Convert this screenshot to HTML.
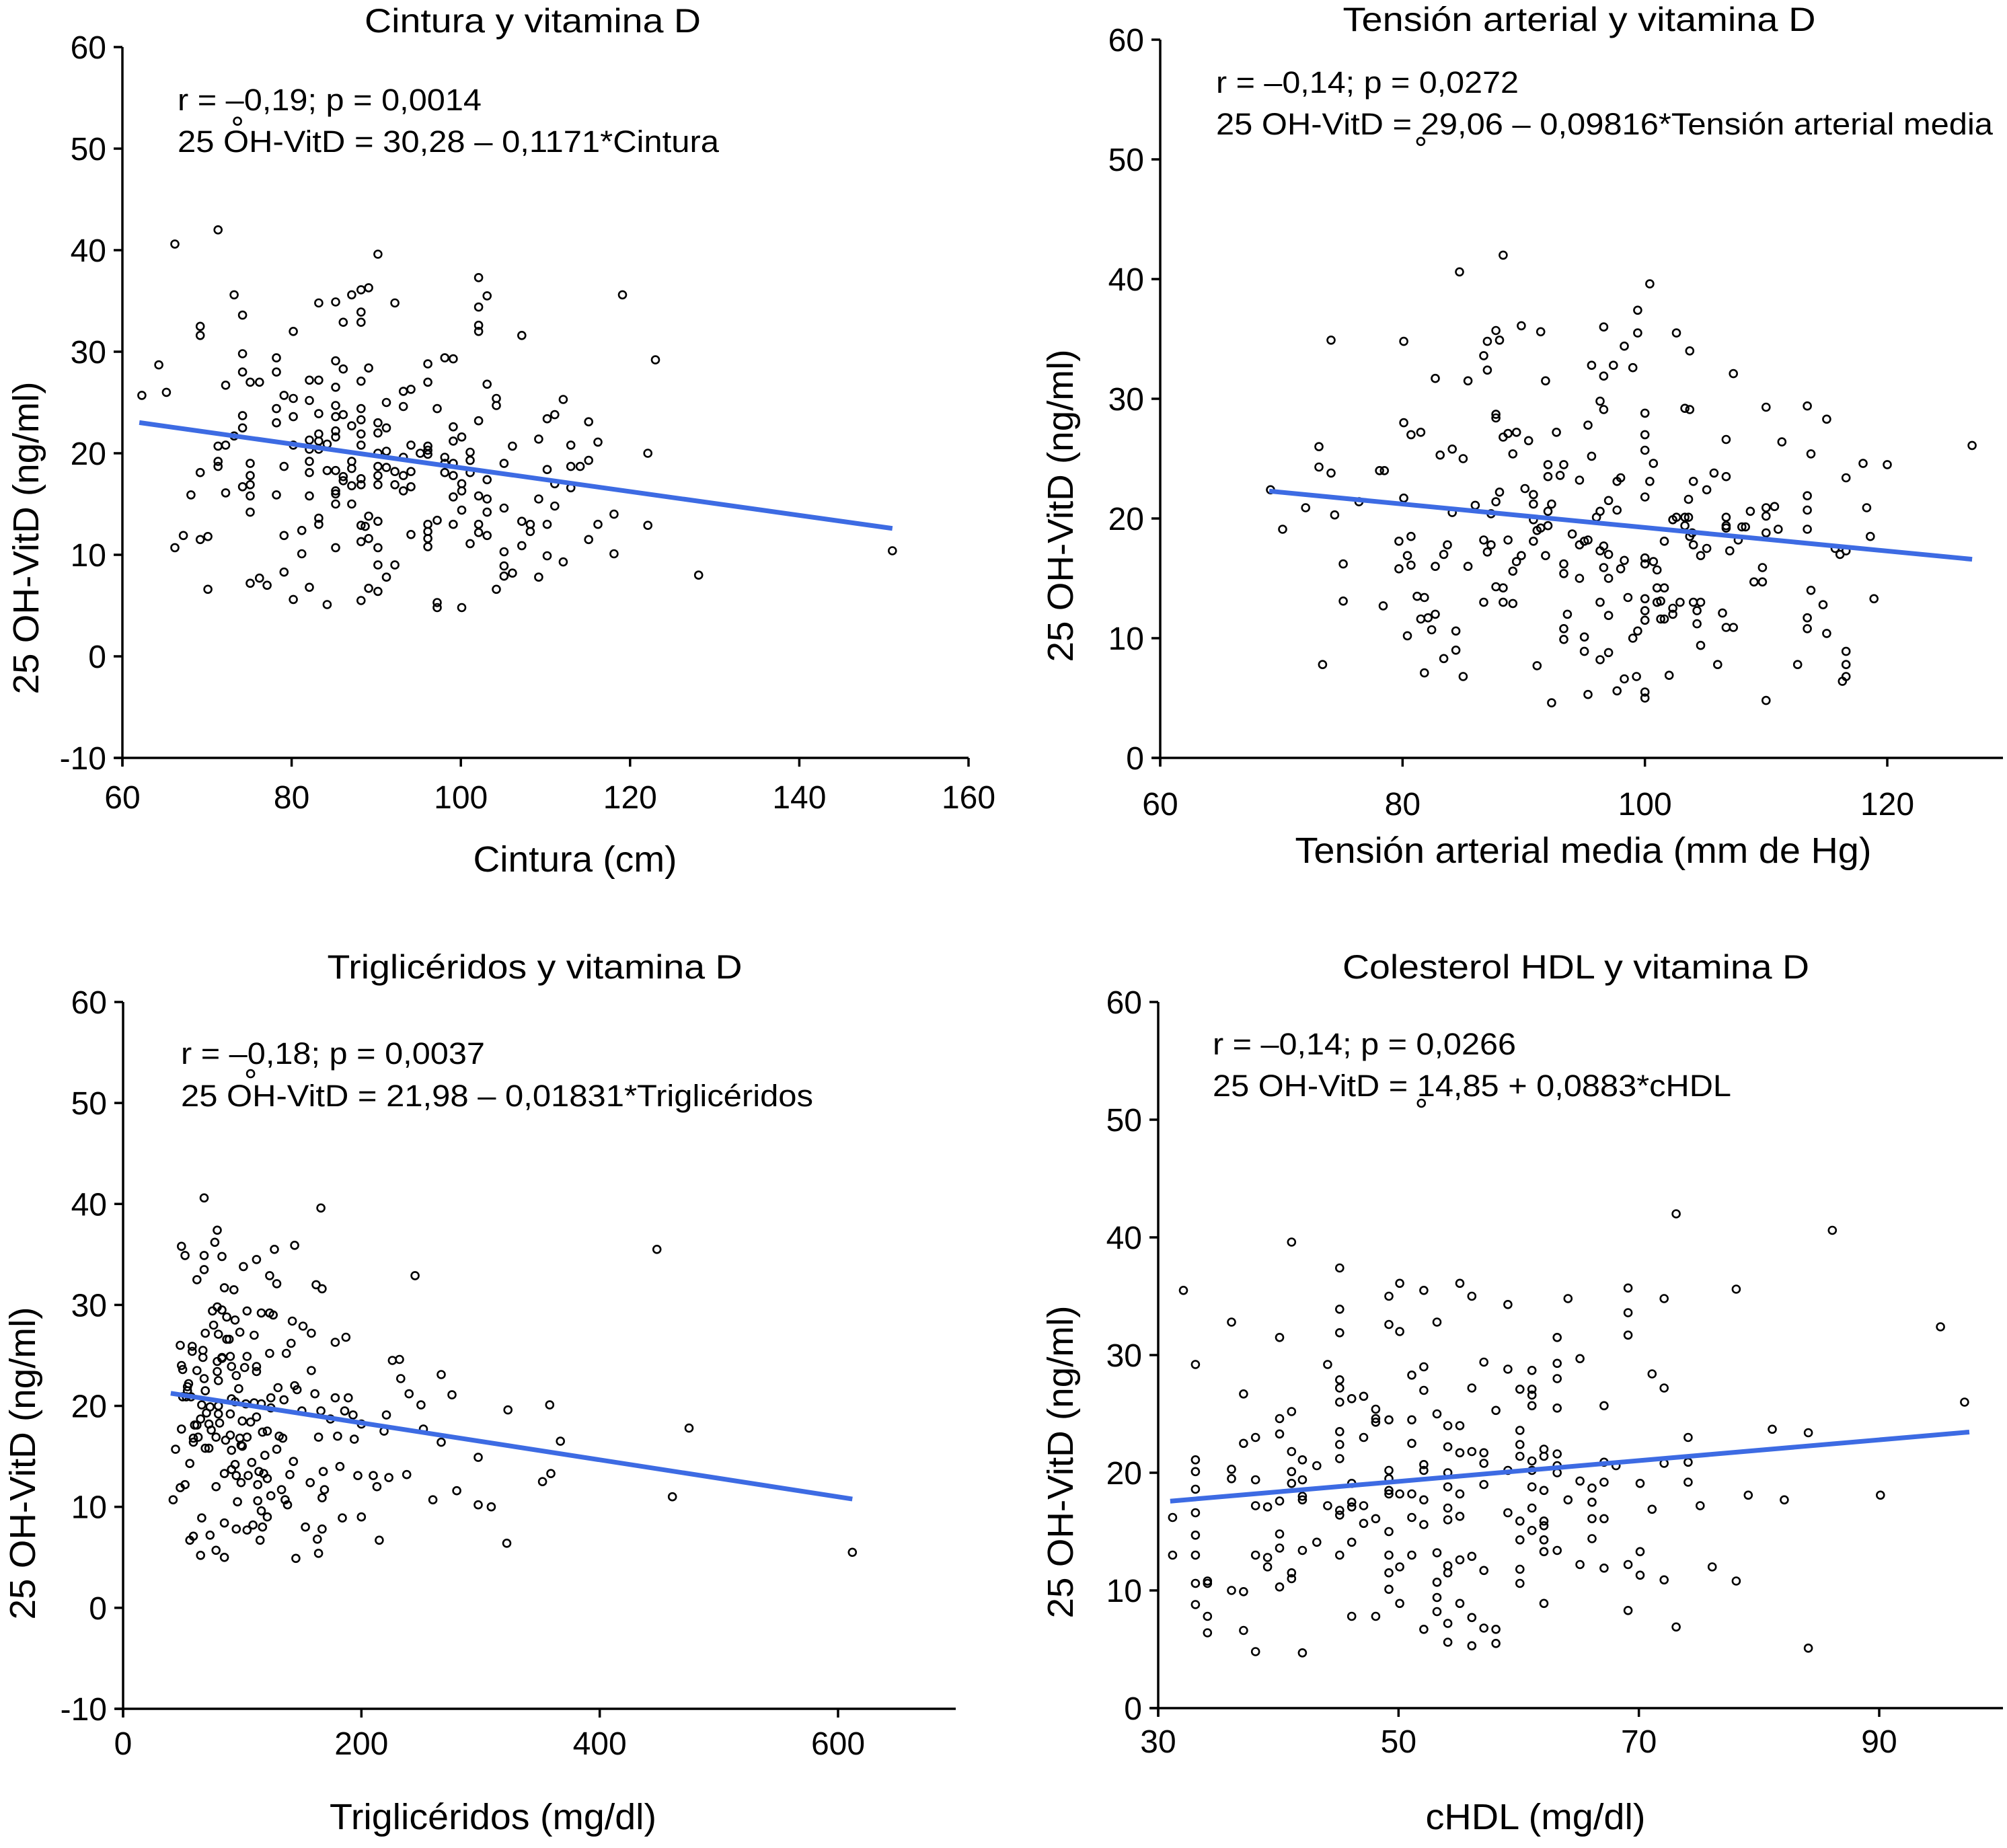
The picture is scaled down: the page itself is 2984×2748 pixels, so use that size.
<!DOCTYPE html>
<html><head><meta charset="utf-8"><style>
html,body{margin:0;padding:0;background:#fff;}
svg{display:block;font-family:"Liberation Sans",Arial,sans-serif;}
</style></head><body>
<svg id="fig" width="2984" height="2748" viewBox="0 0 2984 2748" xmlns="http://www.w3.org/2000/svg">
<rect width="2984" height="2748" fill="#fff"/>
</svg>
<script>
// ---- data ----
const cinturaPoints=[[62.3,25.7],[64.3,28.7],[65.2,26.0],[66.2,40.6],[71.3,42.0],[73.6,52.7],[66.2,10.7],[67.2,11.9],[69.2,32.5],[69.2,31.6],[69.2,18.1],[68.1,15.9],[69.2,11.5],[70.1,11.8],[70.1,6.6],[71.3,20.7],[71.3,19.2],[71.3,18.7],[72.2,20.8],[72.2,26.7],[72.2,16.1],[73.2,35.6],[73.2,21.7],[74.2,33.6],[74.2,29.8],[74.2,28.0],[74.2,23.7],[74.2,22.5],[74.2,16.7],[75.1,27.0],[76.2,27.0],[75.1,19.0],[75.1,17.8],[75.1,16.9],[75.1,15.8],[75.1,14.2],[75.1,7.2],[76.2,7.7],[77.1,7.0],[78.2,29.4],[78.2,28.0],[78.2,24.4],[78.2,23.0],[78.2,15.9],[79.1,25.7],[79.1,18.7],[79.1,11.9],[79.1,8.3],[80.2,32.0],[80.2,25.4],[80.2,23.6],[80.2,20.8],[80.2,5.6],[81.2,12.4],[81.2,10.1],[82.1,27.2],[82.1,25.2],[82.1,21.3],[82.1,20.4],[82.1,19.2],[82.1,18.1],[82.1,15.8],[82.1,6.8],[83.2,34.8],[83.2,27.2],[83.2,23.9],[83.2,21.9],[83.2,21.2],[83.2,20.4],[83.2,13.6],[83.2,13.0],[84.2,20.9],[84.2,18.3],[84.2,5.1],[85.2,34.9],[85.2,29.1],[85.2,26.5],[85.2,24.7],[85.2,23.6],[85.2,22.2],[85.2,21.6],[85.2,18.3],[85.2,16.3],[85.2,16.0],[85.2,15.0],[85.2,10.7],[86.1,32.9],[86.1,28.3],[86.1,23.8],[86.1,17.7],[86.1,17.3],[87.1,35.6],[87.1,22.7],[87.1,19.2],[87.1,18.5],[87.1,16.8],[87.1,15.0],[88.2,36.1],[88.2,33.9],[88.2,32.9],[88.2,27.1],[88.2,24.4],[88.2,23.3],[88.2,21.9],[88.2,20.8],[88.2,17.5],[88.2,16.9],[88.2,12.9],[88.2,11.3],[88.2,5.5],[89.1,36.3],[89.1,28.4],[89.1,13.8],[89.1,11.6],[89.1,6.7],[88.7,12.8],[90.2,39.6],[90.2,23.0],[90.2,22.0],[90.2,20.0],[90.2,18.7],[90.2,17.8],[90.2,16.9],[90.2,13.3],[90.2,10.7],[90.2,9.0],[90.2,6.4],[91.2,25.0],[91.2,22.5],[91.2,20.2],[91.2,18.6],[91.2,7.8],[92.2,34.8],[92.2,18.2],[92.2,16.9],[92.2,9.0],[93.2,26.1],[93.2,24.6],[93.2,19.6],[93.2,17.8],[93.2,16.3],[94.1,26.3],[94.1,20.8],[94.1,18.2],[94.1,16.7],[94.1,12.0],[95.2,20.0],[96.1,28.8],[96.1,27.0],[96.1,20.7],[96.1,20.3],[96.1,19.9],[96.1,13.0],[96.1,12.3],[96.1,11.6],[96.1,10.8],[97.2,24.4],[97.2,13.4],[97.2,5.3],[97.2,4.8],[98.1,29.4],[98.1,19.6],[98.1,19.0],[98.1,18.1],[99.1,29.3],[99.1,22.6],[99.1,21.2],[99.1,19.0],[99.1,17.8],[99.1,15.7],[99.1,13.0],[100.1,21.6],[100.1,17.0],[100.1,16.3],[100.1,14.4],[100.1,4.8],[101.1,20.1],[101.1,19.3],[101.1,18.1],[101.1,11.1],[102.1,37.3],[102.1,34.4],[102.1,32.6],[102.1,32.0],[102.1,23.2],[102.1,15.8],[102.1,13.0],[102.1,12.2],[103.1,35.5],[103.1,26.8],[103.1,17.4],[103.1,15.5],[103.1,14.2],[103.1,11.9],[104.2,25.4],[104.2,24.7],[104.2,6.6],[105.1,19.0],[105.1,14.6],[105.1,10.3],[105.1,8.9],[105.1,7.9],[106.1,20.7],[106.1,8.2],[107.2,31.6],[107.2,13.3],[107.2,10.9],[108.2,13.0],[108.2,12.3],[109.2,21.4],[109.2,15.5],[109.2,7.8],[110.2,23.4],[110.2,18.4],[110.2,13.0],[110.2,9.9],[111.1,23.8],[111.1,17.0],[111.1,14.8],[112.1,25.3],[112.1,9.3],[113.0,20.8],[113.0,18.7],[113.0,16.6],[114.1,18.7],[115.1,23.1],[115.1,19.3],[115.1,11.5],[116.2,21.1],[116.2,13.0],[118.1,14.0],[118.1,10.1],[119.1,35.6],[122.1,20.0],[122.1,12.9],[123.0,29.2],[128.1,8.0],[151.0,10.4]];
const tensionPoints=[[69.1,22.4],[70.1,19.1],[72.0,20.9],[73.1,26.0],[73.1,24.3],[74.1,23.8],[74.1,34.9],[73.4,7.8],[74.4,20.3],[75.1,16.2],[75.1,13.1],[76.4,21.4],[78.1,24.0],[78.5,24.0],[78.4,12.7],[80.1,34.8],[80.1,28.0],[80.1,21.7],[79.7,18.1],[79.7,15.8],[80.4,16.9],[80.4,10.2],[80.7,18.5],[80.7,16.1],[80.7,27.0],[81.5,27.2],[81.2,13.5],[81.8,13.4],[81.5,11.6],[82.1,11.7],[82.7,12.0],[82.4,10.7],[81.8,7.1],[82.7,31.7],[82.7,16.0],[83.1,25.3],[83.4,17.0],[83.7,17.8],[83.4,8.3],[84.1,25.8],[84.1,20.5],[84.4,10.6],[84.4,9.0],[84.7,40.6],[85.0,25.0],[85.4,31.5],[85.4,16.0],[85.0,6.8],[86.0,21.1],[86.7,33.6],[87.0,34.8],[87.0,32.4],[86.7,18.2],[87.0,17.2],[86.7,13.0],[87.3,20.4],[87.3,17.8],[87.7,35.7],[88.0,34.9],[87.7,28.7],[87.7,28.4],[87.7,21.4],[88.0,22.2],[87.7,14.3],[88.3,14.2],[88.3,13.0],[88.3,42.0],[88.3,26.8],[88.7,27.1],[88.7,18.2],[89.1,25.4],[89.1,15.6],[89.1,12.9],[89.4,27.2],[89.4,16.4],[89.8,36.1],[89.8,16.9],[90.1,22.5],[90.4,26.5],[90.8,22.0],[90.8,21.2],[90.8,19.9],[90.8,18.1],[91.1,19.0],[91.1,7.7],[91.4,35.6],[91.4,19.2],[91.8,31.5],[91.8,16.9],[92.0,24.5],[92.0,23.5],[92.0,19.4],[92.0,20.6],[92.3,21.2],[92.7,27.2],[92.3,4.6],[93.0,23.6],[93.3,24.5],[93.3,16.2],[93.3,15.4],[93.3,10.8],[93.3,9.9],[93.6,12.0],[94.0,18.7],[94.6,23.2],[94.6,17.8],[94.6,15.0],[95.0,18.1],[95.3,18.2],[95.0,10.1],[95.0,8.9],[95.3,27.8],[95.3,5.3],[95.6,32.8],[95.6,25.2],[96.0,20.1],[96.3,29.8],[96.3,20.6],[96.3,17.3],[96.3,13.0],[96.3,8.2],[96.6,29.1],[96.6,31.9],[96.6,36.0],[96.6,17.7],[96.6,15.9],[97.0,21.5],[97.0,17.0],[97.0,15.0],[97.0,11.9],[97.0,8.8],[97.4,32.8],[97.7,23.1],[97.7,20.7],[98.0,23.4],[98.0,15.8],[97.7,5.6],[98.3,34.4],[98.3,16.5],[98.3,6.6],[98.6,13.4],[99.0,32.6],[99.0,10.0],[99.3,6.8],[99.4,37.4],[99.4,35.5],[99.4,10.6],[100.0,28.8],[100.0,27.0],[100.0,25.7],[100.0,21.8],[100.0,16.7],[100.0,16.2],[100.0,13.3],[100.0,12.3],[100.0,11.5],[100.0,5.5],[100.0,5.0],[100.4,39.6],[100.4,23.1],[100.7,24.6],[100.7,16.4],[101.0,15.7],[101.0,13.0],[101.0,14.2],[101.3,13.1],[101.3,11.6],[101.6,18.1],[101.6,14.2],[101.6,11.6],[102.0,6.9],[102.3,19.9],[102.3,12.5],[102.3,12.0],[102.6,20.1],[102.6,35.5],[102.9,13.0],[103.3,20.1],[103.3,19.4],[103.3,29.2],[103.6,20.1],[103.6,21.6],[103.7,34.0],[103.7,29.1],[103.7,18.5],[103.9,18.8],[104.0,23.1],[104.0,17.8],[104.0,13.0],[104.3,12.3],[104.3,11.2],[104.6,13.0],[104.6,16.9],[104.6,9.4],[105.1,22.4],[105.1,17.5],[105.7,23.8],[106.0,7.8],[106.4,12.1],[106.7,26.6],[106.7,23.5],[106.7,20.1],[106.7,19.4],[106.7,19.2],[106.7,10.9],[107.0,17.3],[107.3,32.1],[107.3,10.9],[107.7,18.2],[108.0,19.3],[108.3,19.3],[108.7,20.6],[109.0,14.7],[109.7,14.7],[109.7,15.9],[110.0,29.3],[110.0,20.9],[110.0,20.2],[110.0,18.8],[110.0,4.8],[110.7,21.0],[111.0,19.1],[111.3,26.4],[112.6,7.8],[113.4,29.4],[113.4,21.9],[113.4,20.7],[113.4,19.1],[113.4,11.7],[113.4,10.8],[113.7,25.4],[113.7,14.0],[114.7,12.8],[115.0,28.3],[115.0,10.4],[115.7,17.5],[116.1,17.0],[116.3,6.4],[116.6,23.4],[116.6,17.3],[116.6,8.9],[116.6,7.8],[116.6,6.8],[118.0,24.6],[118.3,20.9],[118.6,18.5],[118.9,13.3],[120.0,24.5],[127.0,26.1],[81.5,51.5]];
const triglicPoints=[[42,10.7],[44,15.7],[48,11.9],[52,12.2],[48,26.0],[49,24.0],[50,23.6],[49,35.8],[52,34.9],[49,17.7],[50,20.9],[53,20.9],[54,21.9],[54,21.5],[55,22.2],[56,14.3],[57,20.9],[58,25.9],[58,25.4],[59,16.4],[59,16.8],[60,18.1],[56,6.7],[59,7.1],[62,18.1],[62,23.5],[62,32.5],[63,16.9],[65,18.7],[66,8.9],[65,5.2],[66,20.1],[67,24.8],[67,25.5],[68,33.5],[68,34.9],[68,40.6],[69,27.2],[68,22.7],[69,21.5],[69,15.8],[70,19.3],[72,18.2],[72,15.8],[73,7.2],[73,19.9],[74,17.6],[75,29.4],[76,28.0],[77,36.2],[78,16.9],[78,12.0],[78,5.7],[79,37.4],[79,29.8],[79,24.4],[79,23.4],[80,27.1],[80,22.5],[80,20.0],[80,19.2],[81,18.3],[83,34.8],[83,24.7],[83,24.8],[83,29.5],[85,31.7],[85,5.0],[85,8.4],[85,13.3],[86,16.6],[87,26.6],[87,28.8],[89,26.6],[90,24.9],[90,19.2],[90,17.1],[91,15.6],[91,13.7],[91,20.7],[91,23.9],[93,31.5],[94,28.5],[94,14.2],[94,20.4],[95,13.1],[95,23.0],[95,7.8],[96,10.5],[97,21.7],[98,27.3],[98,16.8],[99,12.4],[99,16.1],[100,18.5],[100,16.0],[101,33.8],[102,23.8],[103,20.2],[104,24.9],[104,29.4],[104,16.9],[104,7.7],[105,13.1],[107,18.4],[108,14.4],[109,8.2],[110,27.0],[110,20.3],[112,34.5],[112,23.9],[112,23.4],[112,18.9],[113,12.2],[113,10.6],[114,13.5],[115,6.7],[116,29.2],[116,20.2],[116,9.6],[117,17.4],[117,8.0],[118,13.3],[119,15.1],[121,9.0],[121,12.8],[121,17.5],[123,32.9],[123,29.2],[123,25.2],[124,19.8],[124,11.1],[124,20.8],[126,29.0],[127,35.5],[129,32.1],[129,15.7],[130,21.8],[131,17.0],[133,11.7],[134,16.8],[135,20.6],[136,10.7],[137,25.2],[138,10.2],[140,13.2],[141,26.2],[142,28.4],[143,14.5],[144,35.9],[144,22.0],[145,4.9],[146,21.6],[150,19.5],[151,27.9],[153,8.0],[157,12.4],[158,23.5],[158,27.2],[161,21.2],[162,32.0],[163,6.8],[164,16.9],[164,5.4],[166,39.6],[166,19.5],[167,31.6],[167,10.9],[167,7.8],[168,13.5],[169,11.7],[174,18.7],[178,26.3],[178,20.8],[180,17.0],[182,14.0],[184,8.9],[186,19.5],[187,26.8],[189,20.8],[193,19.1],[194,16.7],[197,13.1],[200,9.0],[200,18.2],[210,13.1],[213,12.0],[215,6.7],[219,17.5],[221,19.1],[223,12.9],[226,24.5],[232,24.6],[233,22.7],[238,13.2],[240,21.2],[245,32.9],[250,20.1],[252,17.7],[260,10.7],[267,23.1],[267,16.4],[276,21.1],[280,11.6],[298,14.9],[298,10.2],[309,10.0],[322,6.4],[323,19.6],[352,12.5],[358,20.1],[359,13.3],[367,16.5],[448,35.5],[461,11.0],[475,17.8],[612,5.5],[107,52.9]];
const hdlPoints=[[31.2,16.2],[31.2,13.0],[32.1,35.5],[33.1,29.2],[33.1,21.1],[33.1,20.1],[33.1,18.6],[33.1,16.6],[33.1,14.7],[33.1,13.0],[33.1,10.6],[33.1,8.8],[34.1,10.6],[34.1,10.8],[34.1,7.8],[34.1,6.4],[36.1,32.8],[36.1,20.3],[36.1,19.5],[36.1,10.0],[37.1,26.7],[37.1,22.5],[37.1,9.9],[37.1,6.6],[38.1,23.0],[38.1,19.4],[38.1,17.2],[38.1,13.0],[38.1,4.8],[39.1,12.8],[39.1,12.0],[39.1,17.1],[40.1,31.5],[40.1,24.6],[40.1,23.3],[40.1,17.6],[40.1,14.8],[40.1,13.6],[40.1,10.3],[41.1,39.6],[41.1,25.2],[41.1,21.8],[41.1,20.1],[41.1,19.1],[41.1,11.5],[41.1,11.0],[42.0,21.1],[42.0,19.4],[42.0,18.0],[42.0,17.7],[42.0,13.4],[42.0,4.7],[43.2,20.6],[43.2,14.1],[44.1,29.2],[44.1,17.2],[45.1,37.4],[45.1,33.9],[45.1,31.9],[45.1,27.9],[45.1,27.2],[45.1,26.0],[45.1,23.5],[45.1,22.4],[45.1,21.2],[45.1,16.8],[45.1,16.4],[45.1,13.0],[46.1,26.3],[46.1,19.1],[46.1,17.5],[46.1,17.1],[46.1,14.1],[46.1,7.8],[47.1,26.5],[47.1,23.0],[47.1,17.2],[47.1,15.7],[48.1,25.4],[48.1,24.6],[48.1,24.3],[48.1,16.1],[48.1,7.8],[49.2,35.0],[49.2,32.6],[49.2,24.5],[49.2,20.2],[49.2,19.5],[49.2,18.5],[49.2,18.2],[49.2,15.0],[49.2,13.0],[49.2,11.5],[49.2,10.1],[50.1,36.1],[50.1,32.0],[50.1,18.2],[50.1,12.0],[50.1,8.9],[51.1,28.3],[51.1,24.5],[51.1,22.5],[51.1,18.2],[51.1,16.2],[51.1,13.0],[51.9,51.4],[52.1,35.5],[52.1,29.0],[52.1,27.0],[52.1,20.7],[52.1,20.2],[52.1,17.7],[52.1,15.6],[52.1,6.7],[53.2,32.8],[53.2,25.0],[53.2,13.2],[53.2,10.7],[53.2,9.4],[53.2,8.2],[54.1,24.0],[54.1,22.2],[54.1,20.0],[54.1,18.8],[54.1,17.0],[54.1,16.0],[54.1,12.1],[54.1,11.5],[54.1,7.2],[54.1,5.6],[55.1,36.1],[55.1,24.0],[55.1,21.7],[55.1,18.2],[55.1,16.3],[55.1,12.6],[55.1,8.9],[56.1,35.0],[56.1,27.2],[56.1,21.8],[56.1,12.9],[56.1,7.7],[56.1,5.3],[57.1,29.4],[57.1,21.7],[57.1,20.8],[57.1,19.0],[57.1,11.7],[57.1,6.8],[58.1,25.3],[58.1,6.7],[58.1,5.5],[59.1,34.3],[59.1,28.8],[59.1,20.2],[59.1,16.6],[60.1,27.1],[60.1,23.6],[60.1,22.4],[60.1,21.4],[60.1,15.9],[60.1,14.3],[60.1,11.8],[60.1,10.6],[61.1,28.7],[61.1,27.1],[61.1,26.6],[61.1,25.7],[61.1,21.0],[61.1,20.2],[61.1,18.8],[61.1,17.0],[61.1,15.1],[62.1,22.0],[62.1,21.4],[62.1,18.5],[62.1,15.9],[62.1,15.5],[62.1,14.3],[62.1,13.3],[62.1,8.9],[63.2,31.5],[63.2,29.3],[63.2,28.0],[63.2,25.5],[63.2,21.6],[63.2,20.6],[63.2,20.0],[63.2,13.4],[64.1,34.8],[64.1,17.7],[65.1,29.7],[65.1,19.3],[65.1,12.2],[66.1,18.7],[66.1,17.5],[66.1,16.1],[66.1,14.4],[67.1,25.7],[67.1,20.9],[67.1,19.2],[67.1,16.1],[67.1,11.9],[68.1,20.6],[69.1,35.7],[69.1,33.6],[69.1,31.7],[69.1,12.2],[69.1,8.3],[70.1,19.1],[70.1,13.3],[70.1,11.3],[71.1,28.4],[71.1,16.9],[72.1,34.8],[72.1,27.2],[72.1,20.8],[72.1,10.9],[73.1,42.0],[73.1,6.9],[74.1,23.0],[74.1,20.9],[74.1,19.2],[75.1,17.2],[76.1,12.0],[78.1,35.6],[78.1,10.8],[79.1,18.1],[81.1,23.7],[82.1,17.7],[84.1,5.1],[84.1,23.4],[86.1,40.6],[90.1,18.1],[95.1,32.4],[97.1,26.0]];
// regression: [intercept, slope, xStart, xEnd]
const cinturaFit=[30.28,-0.1171,62,151];
const tensionFit=[29.06,-0.09816,69,127];
const triglicFit=[21.98,-0.01831,40,612];
const hdlFit=[14.85,0.0883,31,97.5];
// ticks
const cinturaXTicks=[60,80,100,120,140,160];
const tensionXTicks=[60,80,100,120];
const triglicXTicks=[0,200,400,600];
const hdlXTicks=[30,50,70,90];
const yTicksNeg=[-10,0,10,20,30,40,50,60];
const yTicksPos=[0,10,20,30,40,50,60];

const NS='http://www.w3.org/2000/svg';
const svg=document.getElementById('fig');
function mk(tag,attrs,parent,txt){
  const e=document.createElementNS(NS,tag);
  for(const k in attrs)e.setAttribute(k,attrs[k]);
  if(txt!==undefined)e.textContent=txt;
  (parent||svg).appendChild(e);return e;
}
function panel(c){
  const g=mk('g',{});
  
  
  const sx=v=>c.x0+(v-c.xmin)/(c.xmax-c.xmin)*(c.x1-c.x0);
  const sy=v=>c.y0-(v-c.ymin)/(c.ymax-c.ymin)*(c.y0-c.y1);
  const ya=mk('line',{x1:c.x0,y1:sy(c.ymax),x2:c.x0,y2:c.y0+12,stroke:'#000','stroke-width':3.5},g);
  
  
  const xa=mk('line',{x1:c.x0-12,y1:c.y0,x2:c.xend,y2:c.y0,stroke:'#000','stroke-width':3.5},g);
  
  
  c.yt.forEach(v=>{
    mk('line',{x1:c.x0-13,y1:sy(v),x2:c.x0,y2:sy(v),stroke:'#000','stroke-width':3.5},g);
    const t=mk('text',{x:c.x0-24,y:sy(v)+17,'font-size':48,'text-anchor':'end'},g,String(v));
    
    
  });
  c.xt.forEach(v=>{
    mk('line',{x1:sx(v),y1:c.y0,x2:sx(v),y2:c.y0+13,stroke:'#000','stroke-width':3.5},g);
    const t=mk('text',{x:sx(v),y:c.xtb+2,'font-size':48,'text-anchor':'middle'},g,String(v));
    
    
  });
  c.pts.forEach(p=>{
    const ci=mk('circle',{cx:sx(p[0]).toFixed(1),cy:sy(p[1]).toFixed(1),r:5.5,fill:'none',stroke:'#000','stroke-width':2.6},g);
    
    
  });
  const f=c.fit;
  const fl=mk('line',{x1:sx(f[2]),y1:sy(f[0]+f[1]*f[2]),x2:sx(f[3]),y2:sy(f[0]+f[1]*f[3]),stroke:'#3d6be3','stroke-width':7},g);
  
  
  const tt=mk('text',{x:c.tx,y:c.ty,'font-size':50,'text-anchor':'middle',textLength:c.tw,lengthAdjust:'spacingAndGlyphs'},g,c.title);
  
  
  const a1=mk('text',{x:c.ax,y:c.ay1,'font-size':45,textLength:c.aw1,lengthAdjust:'spacingAndGlyphs'},g,c.ann1);
  
  
  const a2=mk('text',{x:c.ax,y:c.ay2,'font-size':45,textLength:c.aw2,lengthAdjust:'spacingAndGlyphs'},g,c.ann2);
  
  
  const xl=mk('text',{x:c.xlx,y:c.xly,'font-size':54,'text-anchor':'middle',textLength:c.xlw,lengthAdjust:'spacingAndGlyphs'},g,c.xlabel);
  
  
  const yl=mk('text',{x:0,y:0,'font-size':54,'text-anchor':'middle',textLength:465,lengthAdjust:'spacingAndGlyphs',transform:`translate(${c.ylx},${c.yly}) rotate(-90)`},g,'25 OH-VitD (ng/ml)');
  
  
}
panel({name:'panel-cintura',x0:182,x1:1440,xmin:60,xmax:160,xend:1440,y0:1127,y1:70,ymin:-10,ymax:60,
  yt:yTicksNeg,xt:cinturaXTicks,xtb:1200,pts:cinturaPoints,fit:cinturaFit,
  title:'Cintura y vitamina D',tx:792,ty:48,tw:500,
  ann1:'r = –0,19; p = 0,0014',ann2:'25 OH-VitD = 30,28 – 0,1171*Cintura',ax:264,ay1:164,ay2:226,aw1:452,aw2:805,
  xlabel:'Cintura (cm)',xlx:855,xly:1296,xlw:303,ylx:57,yly:800});
panel({name:'panel-tension',x0:1725,x1:2806,xmin:60,xmax:120,xend:2978,y0:1127,y1:59,ymin:0,ymax:60,
  yt:yTicksPos,xt:tensionXTicks,xtb:1210,pts:tensionPoints,fit:tensionFit,
  title:'Tensión arterial y vitamina D',tx:2348,ty:46,tw:703,
  ann1:'r = –0,14; p = 0,0272',ann2:'25 OH-VitD = 29,06 – 0,09816*Tensión arterial media',ax:1808,ay1:138,ay2:200,aw1:450,aw2:1155,
  xlabel:'Tensión arterial media (mm de Hg)',xlx:2354,xly:1283,xlw:857,ylx:1595,yly:752});
panel({name:'panel-trigliceridos',x0:183,x1:1246,xmin:0,xmax:600,xend:1421,y0:2541,y1:1490,ymin:-10,ymax:60,
  yt:yTicksNeg,xt:triglicXTicks,xtb:2607,pts:triglicPoints,fit:triglicFit,
  title:'Triglicéridos y vitamina D',tx:795,ty:1455,tw:617,
  ann1:'r = –0,18; p = 0,0037',ann2:'25 OH-VitD = 21,98 – 0,01831*Triglicéridos',ax:269,ay1:1582,ay2:1645,aw1:452,aw2:940,
  xlabel:'Triglicéridos (mg/dl)',xlx:733,xly:2720,xlw:486,ylx:52,yly:2176});
panel({name:'panel-hdl',x0:1722,x1:2794,xmin:30,xmax:90,xend:2978,y0:2540,y1:1490,ymin:0,ymax:60,
  yt:yTicksPos,xt:hdlXTicks,xtb:2604,pts:hdlPoints,fit:hdlFit,
  title:'Colesterol HDL y vitamina D',tx:2343,ty:1455,tw:694,
  ann1:'r = –0,14; p = 0,0266',ann2:'25 OH-VitD = 14,85 + 0,0883*cHDL',ax:1803,ay1:1568,ay2:1630,aw1:451,aw2:771,
  xlabel:'cHDL (mg/dl)',xlx:2283,xly:2720,xlw:327,ylx:1595,yly:2174});
</script>
</body></html>
